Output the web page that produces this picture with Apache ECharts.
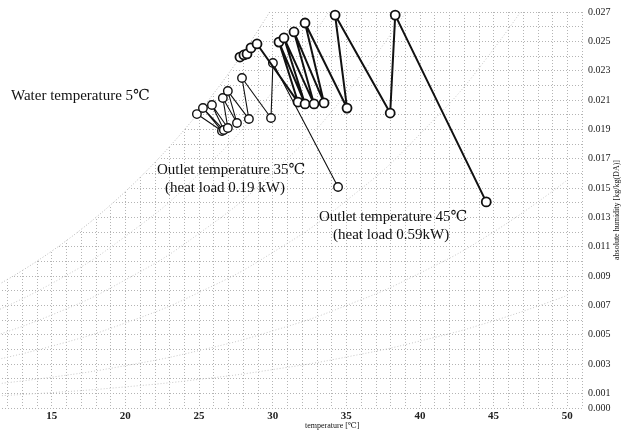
<!DOCTYPE html>
<html>
<head>
<meta charset="utf-8">
<script src="https://cdn.jsdelivr.net/npm/echarts@6/dist/echarts.min.js"></script>
<style>html,body{margin:0;padding:0;background:#fff}#c{width:626px;height:432px}</style>
</head>
<body>
<div id="c"></div>
<script>
// Outlet 35 °C (heat load 0.19 kW) – thin zigzag
const thinT = [24.86, 26.56, 25.27, 26.69, 25.88, 26.96, 26.62, 27.58, 26.96, 28.39, 27.92, 29.89, 30.02, 34.44];
const thinW = [0.02004, 0.01889, 0.02045, 0.01895, 0.02066, 0.01909, 0.02114, 0.01943, 0.02161, 0.01970, 0.02250, 0.01977, 0.02352, 0.01507];
// Outlet 45 °C (heat load 0.59 kW) – thick zigzag
const thickT = [27.78, 28.05, 28.26, 28.53, 28.94, 31.72, 30.43, 32.20, 30.77, 32.81, 31.45, 33.49, 32.20, 35.05, 34.24, 37.98, 38.32, 44.50];
const thickW = [0.02393, 0.02407, 0.02414, 0.02455, 0.02482, 0.02086, 0.02495, 0.02073, 0.02523, 0.02073, 0.02564, 0.02080, 0.02625, 0.02045, 0.02679, 0.02011, 0.02679, 0.01405];
// saturation curve (background psychrometric chart)
const satT = [10,11,12,13,14,15,16,17,18,19,20,21,22,23,24,25,26,27,28,29,30,31];
const satW = [0.007661,0.008197,0.008766,0.009370,0.010012,0.010692,0.011413,0.012178,0.012989,0.013848,0.014758,0.015721,0.016741,0.017821,0.018963,0.020170,0.021448,0.022798,0.024226,0.025735,0.027329,0.029014];
// relative humidity curves (background)
const rhT = [10,15,20,25,30,35,40,45,50];
const rh10 = [0.000755,0.001048,0.001439,0.001951,0.002618,0.003475,0.004565,0.005943,0.007676];
const rh20 = [0.001511,0.002101,0.002885,0.003915,0.005257,0.006987,0.009198,0.012004,0.015543];
const rh40 = [0.003030,0.004216,0.005797,0.007878,0.010601,0.014133,0.018673,0.024473,0.031893];
const rh60 = [0.004556,0.006343,0.008736,0.011895,0.016045,0.021438,0.028445];
const rh80 = [0.006090,0.008487,0.011704,0.015965,0.021573,0.028929];
const xTicks = [15,20,25,30,35,40,45,50];
const yTicks = [0,0.001,0.003,0.005,0.007,0.009,0.011,0.013,0.015,0.017,0.019,0.021,0.023,0.025,0.027];

const zip = (a,b) => a.map((v,i)=>[v,b[i]]);
const serif = '"Liberation Serif","DejaVu Serif",serif';
const gridLine = {show:true, lineStyle:{color:'#b4b4b4', width:1, type:[1,2]}};
const bg = (d) => ({type:'line', data:d, smooth:true, symbol:'none', silent:true, z:1,
  lineStyle:{color:'#c8c8c8', width:1, type:[1,2]}});

const chart = echarts.init(document.getElementById('c'), null, {renderer:'canvas'});
chart.setOption({
  animation:false,
  backgroundColor:'#fff',
  grid:{left:-22, right:44, top:12, bottom:24, containLabel:false, outerBoundsMode:'none'},
  xAxis:{type:'value', min:10, max:51, interval:1,
    axisLine:{show:false}, axisTick:{show:false},
    splitLine:gridLine,
    axisLabel:{margin:3, fontFamily:serif, fontSize:11, fontWeight:'bold', color:'#222',
      formatter:v => xTicks.includes(Math.round(v)) ? String(Math.round(v)) : ''}
  },
  yAxis:{type:'value', position:'right', min:0, max:0.027, interval:0.001,
    axisLine:{show:false}, axisTick:{show:false},
    splitLine:gridLine,
    axisLabel:{margin:6, fontFamily:serif, fontSize:10, color:'#222',
      formatter:v => { const k = Math.round(v*1000); return yTicks.some(t=>Math.round(t*1000)===k) ? (k/1000).toFixed(3) : ''; }}
  },
  series:[
    bg(zip(rhT,rh10)), bg(zip(rhT,rh20)), bg(zip(rhT,rh40)), bg(zip(rhT.slice(0,7),rh60)), bg(zip(rhT.slice(0,6),rh80)),
    {type:'line', data:zip(satT,satW), smooth:true, symbol:'none', silent:true, z:2,
      lineStyle:{color:'#b8b8b8', width:1, type:[1,2]},
      areaStyle:{origin:'end', color:'#ffffff', opacity:1}},
    {type:'line', name:'35', data:zip(thinT,thinW), z:5,
      lineStyle:{color:'#111', width:1.1},
      symbol:'circle', symbolSize:8.5,
      itemStyle:{color:'#fff', borderColor:'#111', borderWidth:1.4}},
    {type:'line', name:'45', data:zip(thickT,thickW), z:6,
      lineStyle:{color:'#111', width:2},
      symbol:'circle', symbolSize:9,
      itemStyle:{color:'#fff', borderColor:'#111', borderWidth:1.8}}
  ],
  graphic:[
    {type:'text', left:11, top:89, z:10, style:{text:'Water temperature 5\u2103', font:'15px '+serif, fill:'#111'}},
    {type:'text', left:157, top:163, z:10, style:{text:'Outlet temperature 35\u2103', font:'15px '+serif, fill:'#111'}},
    {type:'text', left:165, top:181, z:10, style:{text:'(heat load 0.19 kW)', font:'15px '+serif, fill:'#111'}},
    {type:'text', left:319, top:210, z:10, style:{text:'Outlet temperature 45\u2103', font:'15px '+serif, fill:'#111'}},
    {type:'text', left:333, top:228, z:10, style:{text:'(heat load 0.59kW)', font:'15px '+serif, fill:'#111'}},
    {type:'text', left:305, top:422, z:10, style:{text:'temperature [\u2103]', font:'8px '+serif, fill:'#111'}},
    {type:'text', x:617, y:210, rotation:Math.PI/2, z:10,
      style:{text:'absolute humidity [kg/kg(DA)]', font:'8px '+serif, fill:'#111', align:'center', verticalAlign:'middle'}}
  ]
});
</script>
</body>
</html>
